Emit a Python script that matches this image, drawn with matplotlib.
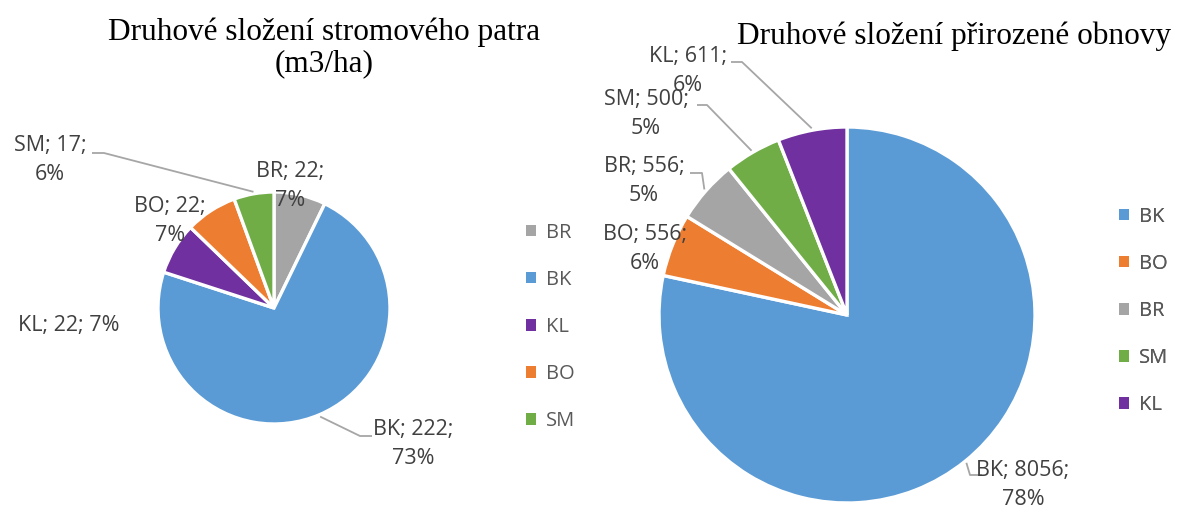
import numpy as np
import matplotlib
matplotlib.use("Agg")
from matplotlib import pyplot as plt

# --- data ---
left_names = ["BR", "BK", "KL", "BO", "SM"]
left_values = [22, 222, 22, 22, 17]
left_pcts = [7, 73, 7, 7, 6]

right_names = ["BK", "BO", "BR", "SM", "KL"]
right_values = [8056, 556, 556, 500, 611]
right_pcts = [78, 6, 5, 5, 6]

colors = {"BK": "#5B9BD5", "BO": "#ED7D31", "BR": "#A5A5A5",
          "SM": "#70AD47", "KL": "#7030A0"}

W, H = 1181, 511
LABEL_FONT = "Open Sans"
LABEL_COLOR = "#404040"
LEADER_COLOR = "#A6A6A6"


def Y(y):
    # pixel row (from top) -> data y
    return H - y


fig = plt.figure(figsize=(W / 100, H / 100), dpi=100)
ax = fig.add_axes([0, 0, 1, 1])

# label layout: name -> (text centre x, text centre y, one line?, leader points or None)
left_layout = {
    "BR": (290, 186, False, None),
    "BK": (413, 444, False, [(372, 436), (360, 436)]),
    "KL": (69, 325, True, None),
    "BO": (170, 221, False, None),
    "SM": (50, 160, False, [(92, 153), (104, 153)]),
}
right_layout = {
    "BK": (1023, 485, False, [(982, 475), (970, 475)]),
    "BO": (645, 249, False, None),
    "BR": (644, 181, False, [(690, 173), (702, 173)]),
    "SM": (646, 114, False, [(697, 105), (707, 105)]),
    "KL": (688, 71, False, [(731, 62), (742, 62)]),
}


def draw_pie(names, values, pcts, center, radius, layout, legend_order, legend_anchor):
    wedges, _ = ax.pie(values, colors=[colors[n] for n in names], startangle=90,
                       counterclock=False, center=(center[0], Y(center[1])), radius=radius,
                       wedgeprops=dict(edgecolor="white", linewidth=2.4))
    for w, name, val, pct in zip(wedges, names, values, pcts):
        tx, ty, one_line, leader = layout[name]
        sep = " " if one_line else "\n"
        ax.text(tx, Y(ty), f"{name}; {val};{sep}{pct}%", ha="center", va="center",
                multialignment="center", fontsize=15.5, family=LABEL_FONT,
                color=LABEL_COLOR, linespacing=1.45)
        if leader:
            mid = np.deg2rad((w.theta1 + w.theta2) / 2)
            px = center[0] + (radius + 2) * np.cos(mid)
            py = Y(center[1]) + (radius + 2) * np.sin(mid)
            xs = [p[0] for p in leader] + [px]
            ys = [Y(p[1]) for p in leader] + [py]
            ax.plot(xs, ys, color=LEADER_COLOR, lw=1.3, solid_capstyle="butt")
    handles = [wedges[names.index(n)] for n in legend_order]
    leg = ax.legend(handles, legend_order, loc="center left",
                    bbox_to_anchor=(legend_anchor[0], Y(legend_anchor[1])),
                    bbox_transform=ax.transData, frameon=False, borderpad=0,
                    handlelength=0.5, handleheight=0.5, handletextpad=0.5,
                    labelspacing=1.35, prop=dict(family=LABEL_FONT, size=14.5),
                    labelcolor="#595959")
    for h in leg.legend_handles:
        h.set_edgecolor("none")
    ax.add_artist(leg)


draw_pie(left_names, left_values, left_pcts, (274, 308), 116, left_layout,
         ["BR", "BK", "KL", "BO", "SM"], (516, 327))
draw_pie(right_names, right_values, right_pcts, (847, 315), 188, right_layout,
         ["BK", "BO", "BR", "SM", "KL"], (1109, 311))

title_kw = dict(family="Liberation Serif", fontsize=22.5, color="black", ha="center", va="baseline")
ax.text(324, Y(40), "Druhové složení stromového patra", **title_kw)
ax.text(324, Y(71), "(m3/ha)", **title_kw)
ax.text(954, Y(44), "Druhové složení přirozené obnovy", **title_kw)

ax.set_xlim(0, W)
ax.set_ylim(0, H)
ax.set_aspect("equal")
ax.axis("off")

fig.savefig("out.png", dpi=100)
